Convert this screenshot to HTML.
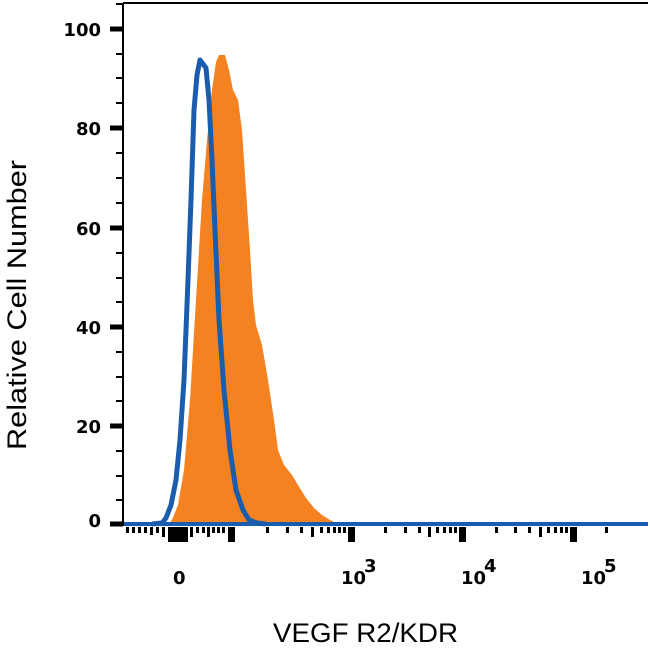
<!DOCTYPE html>
<html><head><style>body{margin:0;background:#fff}</style></head><body>
<svg width="650" height="650" xmlns="http://www.w3.org/2000/svg" font-family="Liberation Sans, sans-serif">
<rect width="650" height="650" fill="#fff"/>
<path d="M168,524 L172,520 L178,505 L184,470 L190,400 L196,300 L202,200 L207,140 L212,90 L216,62 L219,55 L225,55 L229,70 L233,90 L238,100 L242,130 L246,190 L250,250 L253,300 L256,325 L262,345 L268,380 L274,420 L278,450 L284,465 L292,475 L298,485 L306,498 L314,508 L322,515 L330,520 L338,524 Z" fill="#f58220"/>
<path d="M152,524 L162,523 L166,518 L171,505 L176,480 L180,440 L184,380 L188,280 L191,200 L194,110 L197,75 L200,60 L206,68 L209,100 L212,160 L215,230 L219,320 L224,390 L230,450 L236,490 L243,510 L249,520 L257,523 L266,524" fill="none" stroke="#1a5cad" stroke-width="5" stroke-linejoin="round"/>
<line x1="123" y1="524" x2="648" y2="524" stroke="#1a5cad" stroke-width="4"/>
<line x1="123" y1="3" x2="648" y2="3" stroke="#000" stroke-width="2"/>
<line x1="123" y1="3" x2="123" y2="526" stroke="#000" stroke-width="2"/>
<g stroke="#000">
<line x1="110" y1="29" x2="123" y2="29" stroke-width="5"/><line x1="110" y1="128" x2="123" y2="128" stroke-width="5"/><line x1="110" y1="228" x2="123" y2="228" stroke-width="5"/><line x1="110" y1="327" x2="123" y2="327" stroke-width="5"/><line x1="110" y1="426" x2="123" y2="426" stroke-width="5"/><line x1="110" y1="524" x2="123" y2="524" stroke-width="5"/>
<g stroke-width="2">
<line x1="116" y1="4" x2="123" y2="4"/><line x1="116" y1="54" x2="123" y2="54"/><line x1="116" y1="78" x2="123" y2="78"/><line x1="116" y1="103" x2="123" y2="103"/><line x1="116" y1="153" x2="123" y2="153"/><line x1="116" y1="178" x2="123" y2="178"/><line x1="116" y1="203" x2="123" y2="203"/><line x1="116" y1="253" x2="123" y2="253"/><line x1="116" y1="278" x2="123" y2="278"/><line x1="116" y1="302" x2="123" y2="302"/><line x1="116" y1="352" x2="123" y2="352"/><line x1="116" y1="377" x2="123" y2="377"/><line x1="116" y1="401" x2="123" y2="401"/><line x1="116" y1="451" x2="123" y2="451"/><line x1="116" y1="476" x2="123" y2="476"/><line x1="116" y1="500" x2="123" y2="500"/>
</g></g>
<g fill="#000">
<rect x="168" y="527" width="20" height="15"/><rect x="228" y="527" width="7" height="15"/><rect x="348" y="527" width="7" height="15"/><rect x="459" y="527" width="7" height="15"/><rect x="570" y="527" width="7" height="15"/>
<rect x="126" y="527" width="3" height="6"/><rect x="132" y="527" width="3" height="6"/><rect x="138" y="527" width="3" height="6"/><rect x="144" y="527" width="3" height="6"/><rect x="150" y="527" width="3" height="8"/><rect x="156" y="527" width="3" height="6"/><rect x="162" y="527" width="3" height="10"/>
<rect x="190" y="527" width="3" height="10"/><rect x="196" y="527" width="3" height="6"/><rect x="202" y="527" width="3" height="6"/><rect x="207" y="527" width="3" height="10"/><rect x="212" y="527" width="3" height="6"/><rect x="217" y="527" width="3" height="6"/><rect x="222" y="527" width="3" height="6"/>
<rect x="266" y="527" width="3" height="6"/><rect x="286" y="527" width="3" height="6"/><rect x="300" y="527" width="3" height="6"/><rect x="311" y="527" width="3" height="10"/><rect x="320" y="527" width="3" height="6"/><rect x="327" y="527" width="3" height="6"/><rect x="333" y="527" width="3" height="6"/><rect x="338" y="527" width="3" height="6"/><rect x="343" y="527" width="3" height="6"/>
<rect x="384" y="527" width="3" height="6"/><rect x="404" y="527" width="3" height="6"/><rect x="418" y="527" width="3" height="6"/><rect x="428" y="527" width="3" height="10"/><rect x="436" y="527" width="3" height="6"/><rect x="443" y="527" width="3" height="6"/><rect x="449" y="527" width="3" height="6"/><rect x="454" y="527" width="3" height="6"/>
<rect x="495" y="527" width="3" height="6"/><rect x="514" y="527" width="3" height="6"/><rect x="528" y="527" width="3" height="6"/><rect x="539" y="527" width="3" height="10"/><rect x="547" y="527" width="3" height="6"/><rect x="554" y="527" width="3" height="6"/><rect x="560" y="527" width="3" height="6"/><rect x="565" y="527" width="3" height="6"/><rect x="605" y="527" width="3" height="6"/>
</g>
<g font-size="18" font-weight="bold" text-anchor="end" font-family="DejaVu Sans, sans-serif">
<text x="101" y="36">100</text><text x="101" y="135">80</text><text x="101" y="235">60</text><text x="101" y="334">40</text><text x="101" y="433">20</text><text x="101" y="527">0</text>
</g>
<g font-size="18" font-weight="bold" font-family="DejaVu Sans, sans-serif">
<text x="173" y="584">0</text>
<text x="341" y="584">10</text><text x="364" y="572">3</text>
<text x="461" y="584">10</text><text x="484" y="572">4</text>
<text x="581" y="584">10</text><text x="604" y="572">5</text>
</g>
<text x="273" y="642" font-size="27" textLength="185" lengthAdjust="spacingAndGlyphs">VEGF R2/KDR</text>
<text transform="translate(26,450) rotate(-90)" font-size="27" textLength="290" lengthAdjust="spacingAndGlyphs">Relative Cell Number</text>
</svg>
</body></html>
